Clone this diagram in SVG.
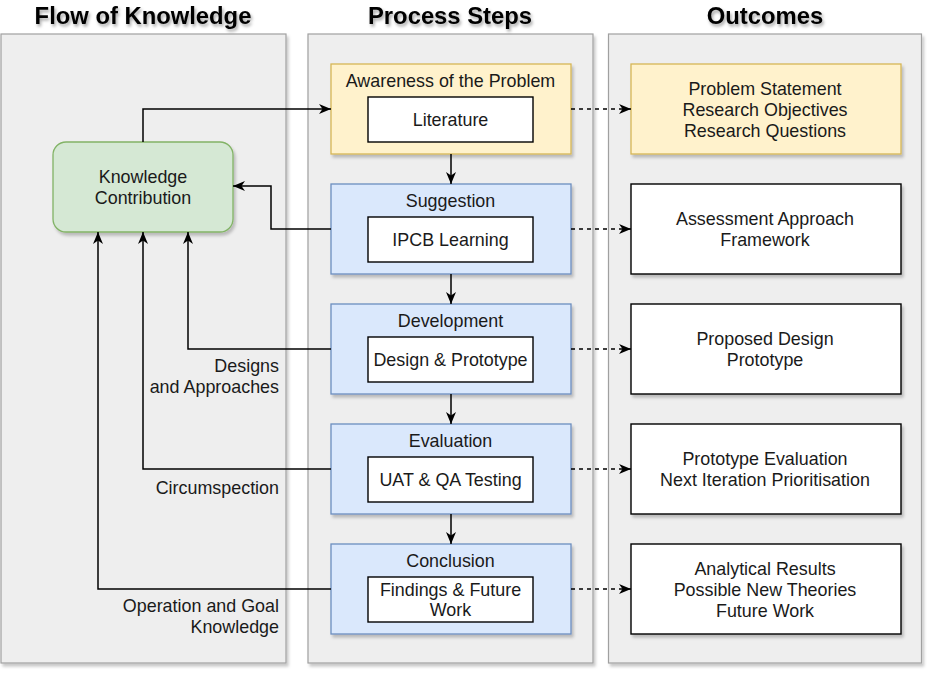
<svg xmlns="http://www.w3.org/2000/svg" width="939" height="681" viewBox="0 0 939 681">
<defs>
<filter id="sh" x="-5%" y="-5%" width="115%" height="115%">
<feDropShadow dx="2" dy="3" stdDeviation="1.8" flood-color="#000" flood-opacity="0.22"/>
</filter>
<filter id="tsh" x="-10%" y="-30%" width="120%" height="180%">
<feDropShadow dx="1.5" dy="2.5" stdDeviation="1.6" flood-color="#000" flood-opacity="0.35"/>
</filter>
<marker id="arr" viewBox="0 0 13 11" markerWidth="13" markerHeight="11" refX="12" refY="5.5" orient="auto" markerUnits="userSpaceOnUse">
<path d="M0,0.5 L12,5.5 L0,10.5 L3.5,5.5 Z" fill="#000"/>
</marker>
</defs>
<style>
.panel{fill:#eeeeee;stroke:#a0a0a0;stroke-width:1.2}
.title{font-family:"Liberation Sans",Arial,sans-serif;font-weight:bold;font-size:23.8px;fill:#000;text-anchor:middle}
.t{font-family:"Liberation Sans",Arial,sans-serif;font-size:17.9px;fill:#1a1a1a;text-anchor:middle}
.tr{font-family:"Liberation Sans",Arial,sans-serif;font-size:17.9px;fill:#1a1a1a;text-anchor:end}
.yel{fill:#fff2cc;stroke:#d6b656;stroke-width:1.3}
.blu{fill:#dae8fc;stroke:#6c8ebf;stroke-width:1.3}
.grn{fill:#d5e8d4;stroke:#82b366;stroke-width:1.3}
.inner{fill:#fff;stroke:#000;stroke-width:1.4}
.out{fill:#fff;stroke:#000;stroke-width:1.4}
.e{fill:none;stroke:#000;stroke-width:1.5;marker-end:url(#arr)}
.d{fill:none;stroke:#000;stroke-width:1.5;stroke-dasharray:4 4;marker-end:url(#arr)}
</style>

<g id="panels">
<rect class="panel" x="1" y="34" width="285" height="629" filter="url(#sh)"/>
<rect class="panel" x="308" y="34" width="285" height="629" filter="url(#sh)"/>
<rect class="panel" x="608.5" y="34" width="313" height="629" filter="url(#sh)"/>
<text class="title" x="143" y="24" filter="url(#tsh)">Flow of Knowledge</text>
<text class="title" x="450" y="24" filter="url(#tsh)">Process Steps</text>
<text class="title" x="765" y="24" filter="url(#tsh)">Outcomes</text>
</g>

<g id="knowledge-contribution">
<rect class="grn" x="53" y="142" width="180" height="90" rx="13" ry="13" filter="url(#sh)"/>
<text class="t" x="143" y="183">Knowledge</text>
<text class="t" x="143" y="204">Contribution</text>
</g>

<g id="step-awareness">
<rect class="yel" x="331" y="64" width="240" height="90" filter="url(#sh)"/>
<text class="t" x="450.5" y="87">Awareness of the Problem</text>
<rect class="inner" x="368" y="97" width="165" height="45"/>
<text class="t" x="450.5" y="126">Literature</text>
</g>

<g id="step-suggestion">
<rect class="blu" x="331" y="184" width="240" height="90" filter="url(#sh)"/>
<text class="t" x="450.5" y="207">Suggestion</text>
<rect class="inner" x="368" y="217" width="165" height="45"/>
<text class="t" x="450.5" y="246">IPCB Learning</text>
</g>

<g id="step-development">
<rect class="blu" x="331" y="304" width="240" height="90" filter="url(#sh)"/>
<text class="t" x="450.5" y="327">Development</text>
<rect class="inner" x="368" y="337" width="165" height="45"/>
<text class="t" x="450.5" y="366">Design &amp; Prototype</text>
</g>

<g id="step-evaluation">
<rect class="blu" x="331" y="424" width="240" height="90" filter="url(#sh)"/>
<text class="t" x="450.5" y="447">Evaluation</text>
<rect class="inner" x="368" y="457" width="165" height="45"/>
<text class="t" x="450.5" y="486">UAT &amp; QA Testing</text>
</g>

<g id="step-conclusion">
<rect class="blu" x="331" y="544" width="240" height="90" filter="url(#sh)"/>
<text class="t" x="450.5" y="567">Conclusion</text>
<rect class="inner" x="368" y="577" width="165" height="45"/>
<text class="t" x="450.5" y="596">Findings &amp; Future</text>
<text class="t" x="450.5" y="616">Work</text>
</g>

<g id="outcome-1">
<rect class="yel" x="631" y="64" width="270" height="90" filter="url(#sh)"/>
<text class="t" x="765" y="95">Problem Statement</text>
<text class="t" x="765" y="116">Research Objectives</text>
<text class="t" x="765" y="137">Research Questions</text>
</g>

<g id="outcome-2">
<rect class="out" x="631" y="184" width="270" height="90" filter="url(#sh)"/>
<text class="t" x="765" y="225">Assessment Approach</text>
<text class="t" x="765" y="246">Framework</text>
</g>

<g id="outcome-3">
<rect class="out" x="631" y="304" width="270" height="90" filter="url(#sh)"/>
<text class="t" x="765" y="345">Proposed Design</text>
<text class="t" x="765" y="366">Prototype</text>
</g>

<g id="outcome-4">
<rect class="out" x="631" y="424" width="270" height="90" filter="url(#sh)"/>
<text class="t" x="765" y="465">Prototype Evaluation</text>
<text class="t" x="765" y="486">Next Iteration Prioritisation</text>
</g>

<g id="outcome-5">
<rect class="out" x="631" y="544" width="270" height="90" filter="url(#sh)"/>
<text class="t" x="765" y="575">Analytical Results</text>
<text class="t" x="765" y="596">Possible New Theories</text>
<text class="t" x="765" y="617">Future Work</text>
</g>

<g id="connectors">
<path class="e" d="M143,142 V109 H331"/>
<path class="e" d="M331,229 H271 V186 H233"/>
<path class="e" d="M331,349 H188 V232"/>
<path class="e" d="M331,469 H143 V232"/>
<path class="e" d="M331,589 H98 V232"/>
<path class="e" d="M451,154 V184"/>
<path class="e" d="M451,274 V304"/>
<path class="e" d="M451,394 V424"/>
<path class="e" d="M451,514 V544"/>
<path class="d" d="M571,109 H631"/>
<path class="d" d="M571,229 H631"/>
<path class="d" d="M571,349 H631"/>
<path class="d" d="M571,469 H631"/>
<path class="d" d="M571,589 H631"/>
<text class="tr" x="279" y="372">Designs</text>
<text class="tr" x="279" y="393">and Approaches</text>
<text class="tr" x="279" y="494">Circumspection</text>
<text class="tr" x="279" y="612">Operation and Goal</text>
<text class="tr" x="279" y="633">Knowledge</text>
</g>
</svg>
